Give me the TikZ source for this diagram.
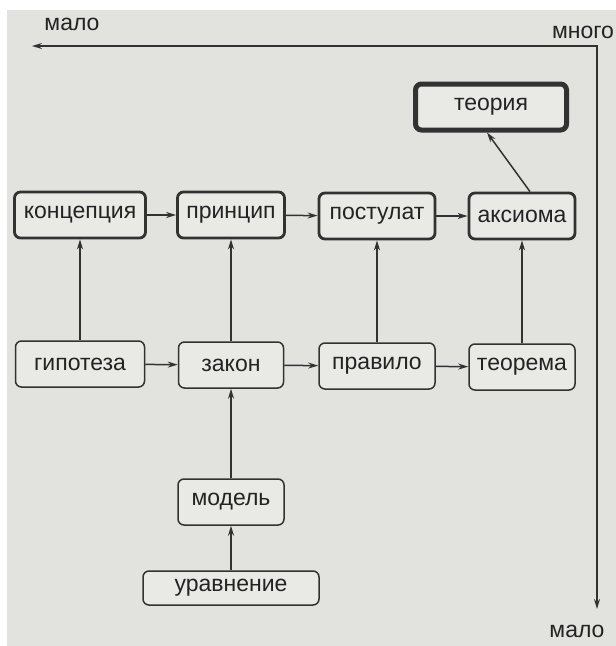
\documentclass[tikz,border=0pt]{standalone}
\usepackage{fontspec}
\setmainfont{Liberation Sans}
\usetikzlibrary{arrows.meta}
\definecolor{bgcol}{RGB}{226,226,223}
\definecolor{boxcol}{RGB}{233,233,230}
\definecolor{linecol}{RGB}{50,50,50}
\definecolor{txtcol}{RGB}{35,35,35}
\begin{document}
\begin{tikzpicture}[>={Stealth[length=10pt,width=6pt]},x=1pt,y=-1pt,
    box/.style={draw=linecol,fill=boxcol,rounded corners=6pt,line width=1.5pt,
        minimum height=46pt,inner sep=0pt,text=txtcol,font=\fontsize{23}{27}\selectfont},
    boxb/.style={box,line width=2.8pt},
    lab/.style={inner sep=0pt,text=txtcol,font=\fontsize{23}{27}\selectfont},
    arr/.style={->,draw=linecol,line width=1.5pt}]
    \fill[white] (0,0) rectangle (616,646);
    \fill[bgcol] (7,10) rectangle (616,646);
    \coordinate (lt) at (32,46);
    \coordinate (rt) at (597,46);
    \coordinate (rb) at (597,609);
    \draw[<->,draw=linecol,line width=1.5pt] (lt) -- (rt) -- (rb);
    \node[lab] (maloa) at (72,24) {мало};
    \node[lab] (mnogo) at (583,32) {много};
    \node[lab] (malob) at (577,631) {мало};
    \node[box,line width=5pt,minimum width=151pt] (teo) at (491,107) {теория};
    \node[boxb,minimum width=131pt] (kon) at (80,215) {концепция};
    \node[boxb,minimum width=107pt] (pri) at (231,215) {принцип};
    \node[boxb,minimum width=116pt] (pos) at (377,216) {постулат};
    \node[boxb,minimum width=106pt] (aks) at (522,216) {аксиома};
    \node[box,minimum width=129pt] (gip) at (80,364) {гипотеза};
    \node[box,minimum width=105pt] (zak) at (231,365) {закон};
    \node[box,minimum width=116pt] (pra) at (377,366) {правило};
    \node[box,minimum width=106pt] (thm) at (522,367) {теорема};
    \node[box,minimum width=106pt] (mod) at (231,502) {модель};
    \node[box,minimum width=176pt,minimum height=34pt] (ura) at (231,588) {уравнение};
    \draw[arr] (kon) -- (pri);
    \draw[arr] (pri) -- (pos);
    \draw[arr] (pos) -- (aks);
    \draw[arr] (gip) -- (zak);
    \draw[arr] (zak) -- (pra);
    \draw[arr] (pra) -- (thm);
    \draw[arr] (gip) -- (kon);
    \draw[arr] (zak) -- (pri);
    \draw[arr] (pra.north) -- (pos.south);
    \draw[arr] (thm.north) -- (aks.south);
    \draw[arr] (mod) -- (zak);
    \draw[arr] (ura) -- (mod);
    \draw[arr] ([xshift=8pt]aks.north) -- ([xshift=-4pt]teo.south);
\end{tikzpicture}
\end{document}
